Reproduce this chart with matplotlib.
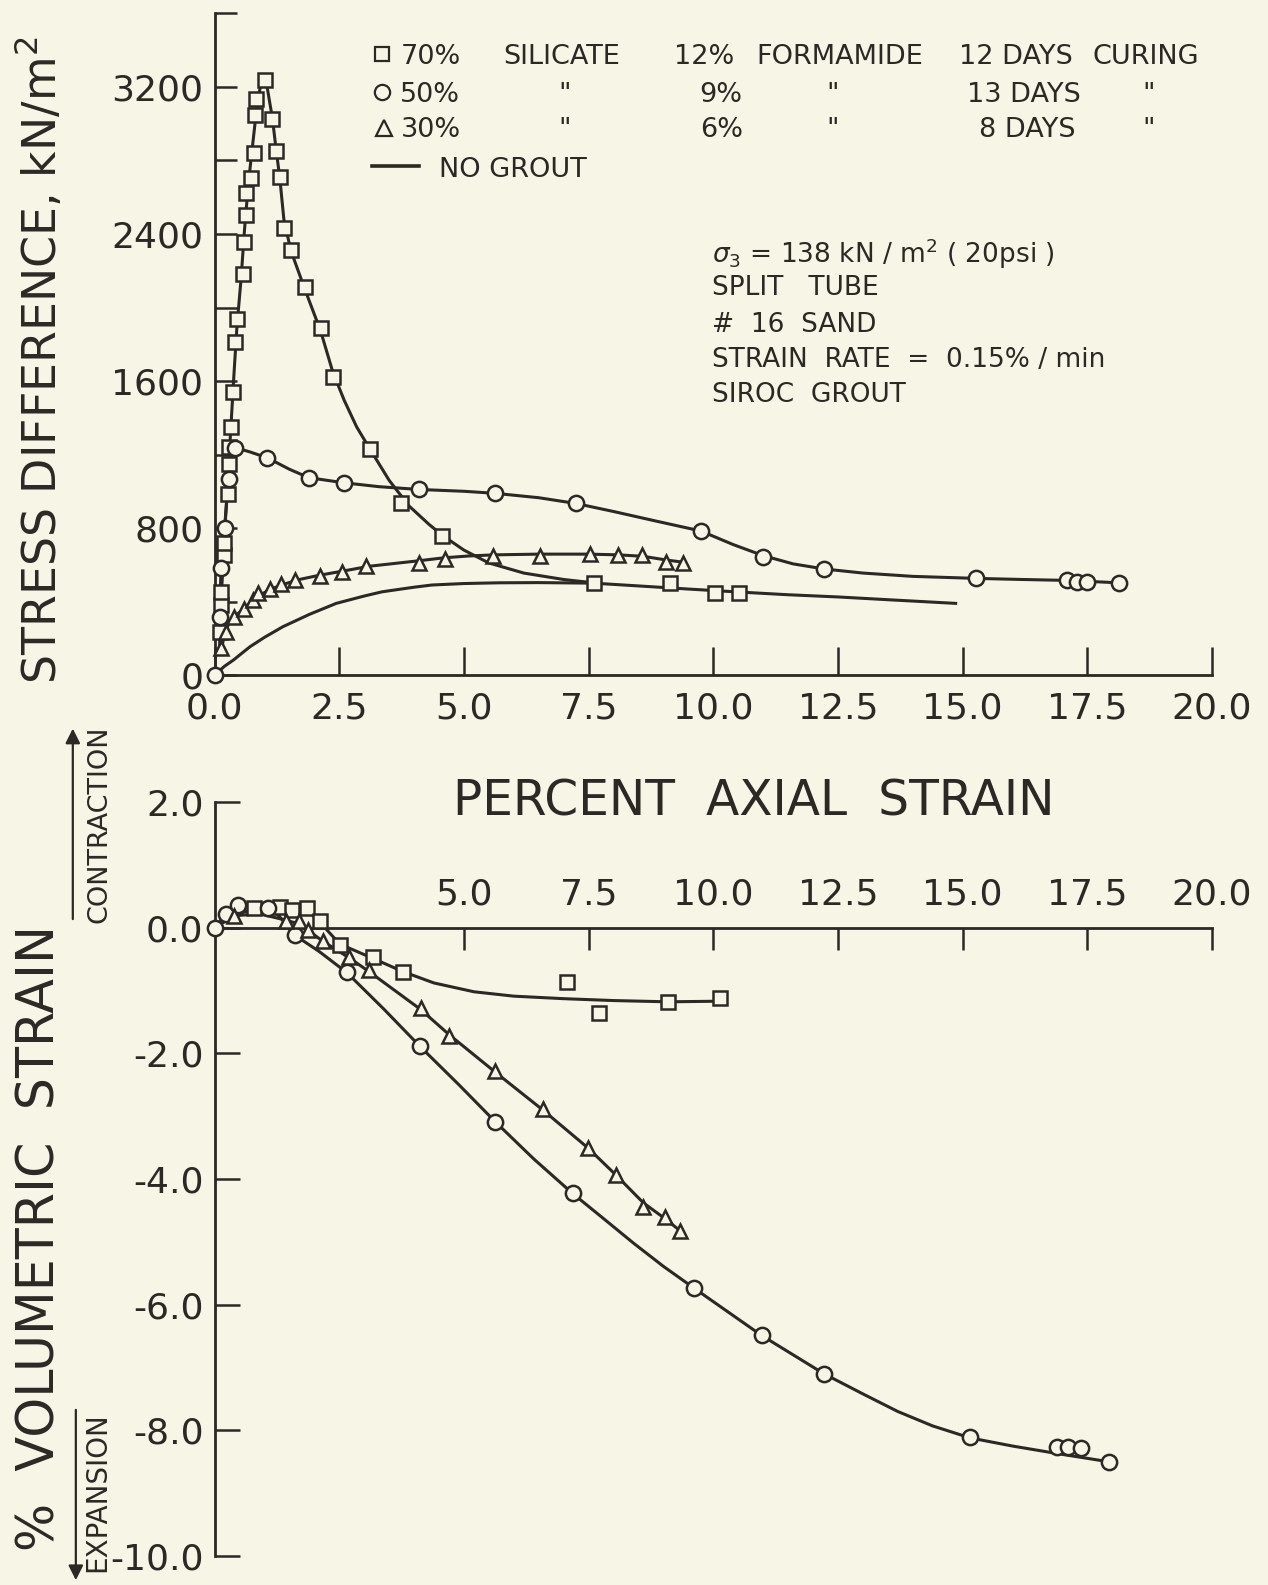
import matplotlib
matplotlib.use("Agg")
import matplotlib.pyplot as plt
from matplotlib.lines import Line2D

# ---- data ----
# upper panel: stress difference (kN/m2) vs percent axial strain
sq_x = [0.11, 0.12, 0.12, 0.18, 0.18, 0.26, 0.29, 0.28, 0.33, 0.38, 0.41, 0.46, 0.57, 0.59,
        0.63, 0.63, 0.73, 0.79, 0.81, 0.84, 1.01, 1.16, 1.23, 1.31, 1.39, 1.53, 1.81, 2.13,
        2.37, 3.12, 3.74, 4.57, 7.61, 9.13, 10.03, 10.52]
sq_y = [236, 381, 453, 653, 717, 983, 1147, 1242, 1348, 1538, 1814, 1936, 2182, 2358,
        2503, 2625, 2706, 2842, 3048, 3133, 3240, 3024, 2852, 2712, 2431, 2313, 2110, 1887,
        1620, 1228, 938, 756, 502, 502, 448, 445]
sq_line_x = [0.10, 0.14, 0.20, 0.27, 0.33, 0.39, 0.45, 0.53, 0.60, 0.68, 0.77, 0.86, 0.94, 1.02,
             1.16, 1.23, 1.31, 1.39, 1.53, 1.81, 2.13, 2.37, 2.60, 2.85, 3.12, 3.50, 3.90,
             4.30, 4.57, 5.00, 5.50, 6.20, 7.00, 7.60]
sq_line_y = [150, 450, 760, 1080, 1360, 1640, 1900, 2150, 2420, 2680, 2900, 3120, 3230, 3255,
             3030, 2870, 2700, 2480, 2310, 2100, 1870, 1650, 1495, 1350, 1228, 1060, 920,
             820, 760, 680, 610, 555, 520, 502]

ci_x = [0.0, 0.11, 0.13, 0.21, 0.28, 0.42, 1.06, 1.89, 2.60, 4.09, 5.62, 7.24, 9.75, 11.0,
        12.23, 15.27, 17.1, 17.3, 17.49, 18.13]
ci_y = [0, 317, 581, 798, 1065, 1237, 1182, 1074, 1046, 1010, 989, 934, 784, 644,
        577, 526, 517, 508, 508, 502]
ci_line_x = [0.10, 0.13, 0.20, 0.28, 0.34, 0.42, 0.70, 1.06, 1.50, 1.89, 2.60, 3.30, 4.09, 5.00,
             5.62, 6.50, 7.24, 8.00, 8.90, 9.75, 10.40, 11.0, 11.6, 12.23, 13.0, 14.0, 15.27,
             16.2, 17.1, 18.13]
ci_line_y = [300, 580, 800, 1065, 1180, 1237, 1215, 1182, 1120, 1074, 1046, 1025, 1010, 1000,
             989, 965, 934, 890, 835, 784, 710, 650, 605, 577, 555, 537, 526,
             520, 515, 502]

tr_x = [0.12, 0.22, 0.40, 0.59, 0.77, 0.87, 1.11, 1.34, 1.61, 2.11, 2.56, 3.04, 4.10, 4.62,
        5.58, 6.52, 7.52, 8.09, 8.58, 9.06, 9.40]
tr_y = [145, 235, 317, 357, 408, 449, 466, 494, 517, 539, 562, 593, 608, 632,
        650, 648, 657, 653, 653, 617, 611]
tr_line_x = [0.12, 0.20, 0.30, 0.45, 0.60, 0.80, 1.10, 1.40, 1.70, 2.10, 2.60, 3.10, 3.60, 4.10,
             4.60, 5.10, 5.60, 6.50, 7.50, 8.10, 8.60, 9.06, 9.40]
tr_line_y = [120, 220, 290, 330, 365, 415, 465, 495, 520, 543, 567, 592, 607, 622,
             638, 648, 654, 658, 658, 654, 646, 626, 614]

ng_x = [0.0, 0.2, 0.38, 0.71, 1.0, 1.37, 1.9, 2.44, 3.0, 3.36, 4.0, 4.36, 5.0, 5.7, 6.5, 7.6,
        8.5, 9.5, 10.5, 11.5, 12.5, 13.5, 14.86]
ng_y = [0, 48, 82, 154, 205, 263, 330, 390, 430, 453, 478, 490, 498, 502, 503, 500,
        485, 468, 452, 437, 425, 410, 390]

# lower panel: percent volumetric strain vs percent axial strain
v_ci_x = [0.0, 0.22, 0.47, 1.07, 1.61, 2.66, 4.12, 5.63, 7.18, 9.62, 10.97, 12.22, 15.15,
          16.9, 17.12, 17.37, 17.93]
v_ci_y = [0.0, 0.21, 0.36, 0.32, -0.12, -0.70, -1.89, -3.09, -4.23, -5.74, -6.49, -7.10, -8.10,
          -8.26, -8.26, -8.28, -8.50]
v_ci_line_x = [0.0, 0.22, 0.47, 0.80, 1.07, 1.30, 1.61, 2.10, 2.66, 3.40, 4.12, 4.90, 5.63, 6.40,
               7.18, 7.80, 8.40, 9.00, 9.62, 10.97, 12.22, 13.00, 13.70, 14.40, 15.15, 16.0,
               16.9, 17.93]
v_ci_line_y = [0.0, 0.21, 0.33, 0.36, 0.32, 0.18, -0.12, -0.38, -0.72, -1.30, -1.89, -2.50, -3.09,
               -3.68, -4.23, -4.63, -5.02, -5.39, -5.74, -6.49, -7.10, -7.42, -7.70, -7.93,
               -8.12, -8.25, -8.37, -8.50]

v_sq_x = [0.80, 1.32, 1.56, 1.86, 2.12, 2.51, 3.18, 3.78, 7.06, 7.71, 9.10, 10.13]
v_sq_y = [0.31, 0.33, 0.28, 0.31, 0.11, -0.28, -0.47, -0.70, -0.86, -1.36, -1.18, -1.12]
v_sq_line_x = [0.0, 0.40, 0.80, 1.32, 1.86, 2.12, 2.51, 3.18, 3.78, 4.40, 5.20, 6.00, 7.00,
               8.00, 9.10, 10.13]
v_sq_line_y = [0.0, 0.20, 0.30, 0.31, 0.28, 0.08, -0.26, -0.49, -0.70, -0.88, -1.02, -1.09, -1.13,
               -1.16, -1.18, -1.17]

v_tr_x = [0.40, 1.43, 1.69, 1.87, 2.18, 2.70, 3.10, 4.13, 4.70, 5.63, 6.58, 7.48, 8.04, 8.60,
          9.03, 9.33]
v_tr_y = [0.19, 0.11, 0.11, -0.04, -0.22, -0.47, -0.68, -1.28, -1.72, -2.28, -2.88, -3.51, -3.93,
          -4.44, -4.60, -4.82]
v_tr_line_x = [0.0, 0.40, 0.90, 1.43, 1.69, 1.87, 2.18, 2.70, 3.10, 4.13, 4.70, 5.63, 6.58, 7.48,
               8.04, 8.60, 9.03, 9.33]
v_tr_line_y = [0.0, 0.19, 0.22, 0.12, 0.06, -0.04, -0.22, -0.48, -0.70, -1.30, -1.70, -2.30, -2.90,
               -3.50, -3.93, -4.38, -4.63, -4.82]

top_xticks = [0, 2.5, 5, 7.5, 10, 12.5, 15, 17.5, 20]
top_xlabels = ["0.0", "2.5", "5.0", "7.5", "10.0", "12.5", "15.0", "17.5", "20.0"]
top_yticks = [0, 400, 800, 1200, 1600, 2000, 2400, 2800, 3200, 3600]
top_ylabels = ["0", "", "800", "", "1600", "", "2400", "", "3200", ""]
bot_xticks = [5, 7.5, 10, 12.5, 15, 17.5, 20]
bot_xlabels = ["5.0", "7.5", "10.0", "12.5", "15.0", "17.5", "20.0"]
bot_yticks = [2, 0, -2, -4, -6, -8, -10]
bot_ylabels = ["2.0", "0.0", "-2.0", "-4.0", "-6.0", "-8.0", "-10.0"]

# ---- style ----
bg = "#f7f6e6"
ink = "#2b2825"
plt.rcParams["font.family"] = ["DejaVu Sans"]
plt.rcParams["text.color"] = ink

fig = plt.figure(figsize=(12.68, 15.85), dpi=100, facecolor=bg)


def ftext(xs, ys, s, **kw):
    # position given in pixels of the 1254x1568 view
    fig.text(xs / 1254, 1 - ys / 1568, s, color=ink, **kw)


mk = dict(markerfacecolor=bg, markeredgecolor=ink, markeredgewidth=1.8,
          linestyle="none", clip_on=False, zorder=4)
lw = 2.2

# upper panel
ax1 = fig.add_axes([0.1692, 0.5741, 0.7866, 0.4174], facecolor="none")
ax1.plot(sq_line_x, sq_line_y, color=ink, lw=lw)
ax1.plot(ci_line_x, ci_line_y, color=ink, lw=lw)
ax1.plot(tr_line_x, tr_line_y, color=ink, lw=lw)
ax1.plot(ng_x, ng_y, color=ink, lw=lw)
ax1.plot(sq_x, sq_y, marker="s", markersize=9.5, **mk)
ax1.plot(ci_x, ci_y, marker="o", markersize=11, **mk)
ax1.plot(tr_x, tr_y, marker="^", markersize=10.5, **mk)
ax1.set_xlim(0, 20)
ax1.set_ylim(0, 3600)
for s in ["top", "right"]:
    ax1.spines[s].set_visible(False)
for s in ["left", "bottom"]:
    ax1.spines[s].set_linewidth(2)
    ax1.spines[s].set_color(ink)
ax1.set_xticks(top_xticks)
ax1.set_xticklabels(top_xlabels)
ax1.set_yticks(top_yticks)
ax1.set_yticklabels(top_ylabels)
ax1.tick_params(axis="x", direction="in", length=20, width=1.8, pad=12,
                labelsize=26, colors=ink)
ax1.tick_params(axis="y", direction="in", length=16, width=1.8, pad=8,
                labelsize=26, colors=ink)

# lower panel
ax2 = fig.add_axes([0.1692, 0.0183, 0.7866, 0.4757], facecolor="none")
ax2.plot(v_sq_line_x, v_sq_line_y, color=ink, lw=lw)
ax2.plot(v_ci_line_x, v_ci_line_y, color=ink, lw=lw)
ax2.plot(v_tr_line_x, v_tr_line_y, color=ink, lw=lw)
ax2.plot(v_sq_x, v_sq_y, marker="s", markersize=9.5, **mk)
ax2.plot(v_ci_x, v_ci_y, marker="o", markersize=11, **mk)
ax2.plot(v_tr_x, v_tr_y, marker="^", markersize=10.5, **mk)
ax2.set_xlim(0, 20)
ax2.set_ylim(-10, 2)
ax2.spines["right"].set_visible(False)
ax2.spines["bottom"].set_visible(False)
ax2.spines["top"].set_position(("data", 0))
for s in ["left", "top"]:
    ax2.spines[s].set_linewidth(2)
    ax2.spines[s].set_color(ink)
ax2.xaxis.set_ticks_position("top")
ax2.set_xticks(bot_xticks)
ax2.set_xticklabels(bot_xlabels)
ax2.set_yticks(bot_yticks)
ax2.set_yticklabels(bot_ylabels)
ax2.tick_params(axis="x", direction="in", length=16, width=1.8, pad=12,
                labelsize=26, colors=ink)
ax2.tick_params(axis="y", direction="in", length=18, width=1.8, pad=8,
                labelsize=26, colors=ink)

# axis titles
ftext(40, 356, "STRESS DIFFERENCE, kN/m$^2$", fontsize=33, rotation=90,
      ha="center", va="center")
ftext(40, 1225, "%  VOLUMETRIC  STRAIN", fontsize=36.5, rotation=90,
      ha="center", va="center")
ftext(745, 793, "PERCENT  AXIAL  STRAIN", fontsize=35, ha="center", va="center")

# contraction / expansion arrows
fig.add_artist(plt.Annotation("", xy=(72 / 1254, 1 - 718 / 1568),
                              xytext=(72 / 1254, 1 - 912 / 1568),
                              xycoords="figure fraction", textcoords="figure fraction",
                              arrowprops=dict(arrowstyle="-|>", color=ink, lw=1.6,
                                              mutation_scale=22)))
fig.add_artist(plt.Annotation("", xy=(75 / 1254, 1 - 1566 / 1568),
                              xytext=(75 / 1254, 1 - 1392 / 1568),
                              xycoords="figure fraction", textcoords="figure fraction",
                              arrowprops=dict(arrowstyle="-|>", color=ink, lw=1.6,
                                              mutation_scale=22)))
ftext(98, 815, "CONTRACTION", fontsize=19.5, rotation=90, ha="center", va="center")
ftext(96, 1476, "EXPANSION", fontsize=20, rotation=90, ha="center", va="center")

# legend block
leg = dict(fontsize=19.5, ha="left", va="baseline")
rows = [63, 101, 136, 175]
ftext(396, rows[0], "70%", **leg)
ftext(498, rows[0], "SILICATE", **leg)
ftext(667, rows[0], "12%", **leg)
ftext(748, rows[0], "FORMAMIDE", **leg)
ftext(948, rows[0], "12 DAYS", **leg)
ftext(1080, rows[0], "CURING", **leg)
ftext(396, rows[1], "50%", **leg)
ftext(552, rows[1], '"', **leg)
ftext(692, rows[1], "9%", **leg)
ftext(817, rows[1], '"', **leg)
ftext(956, rows[1], "13 DAYS", **leg)
ftext(1130, rows[1], '"', **leg)
ftext(396, rows[2], "30%", **leg)
ftext(552, rows[2], '"', **leg)
ftext(692, rows[2], "6%", **leg)
ftext(817, rows[2], '"', **leg)
ftext(968, rows[2], "8 DAYS", **leg)
ftext(1130, rows[2], '"', **leg)
ftext(434, rows[3], "NO GROUT", **leg)

sym = dict(markerfacecolor="none", markeredgecolor=ink, markeredgewidth=1.6,
           linestyle="none", transform=fig.transFigure)
fig.add_artist(Line2D([378 / 1254], [1 - 53 / 1568], marker="s", markersize=10, **sym))
fig.add_artist(Line2D([378 / 1254], [1 - 91 / 1568], marker="o", markersize=11, **sym))
fig.add_artist(Line2D([380 / 1254], [1 - 127 / 1568], marker="^", markersize=12, **sym))
fig.add_artist(Line2D([368 / 1254, 414 / 1254], [1 - 164 / 1568, 1 - 164 / 1568],
                      color=ink, lw=2.6, transform=fig.transFigure))

# test conditions
cond = dict(fontsize=19, ha="left", va="baseline")
ftext(704, 260, r"$\sigma_3$ = 138 kN / m$^2$ ( 20psi )", **cond)
ftext(704, 292, "SPLIT   TUBE", **cond)
ftext(704, 328, "#  16  SAND", **cond)
ftext(704, 363, "STRAIN  RATE  =  0.15% / min", **cond)
ftext(704, 398, "SIROC  GROUT", **cond)

fig.savefig("out.png", dpi=100, facecolor=bg)
